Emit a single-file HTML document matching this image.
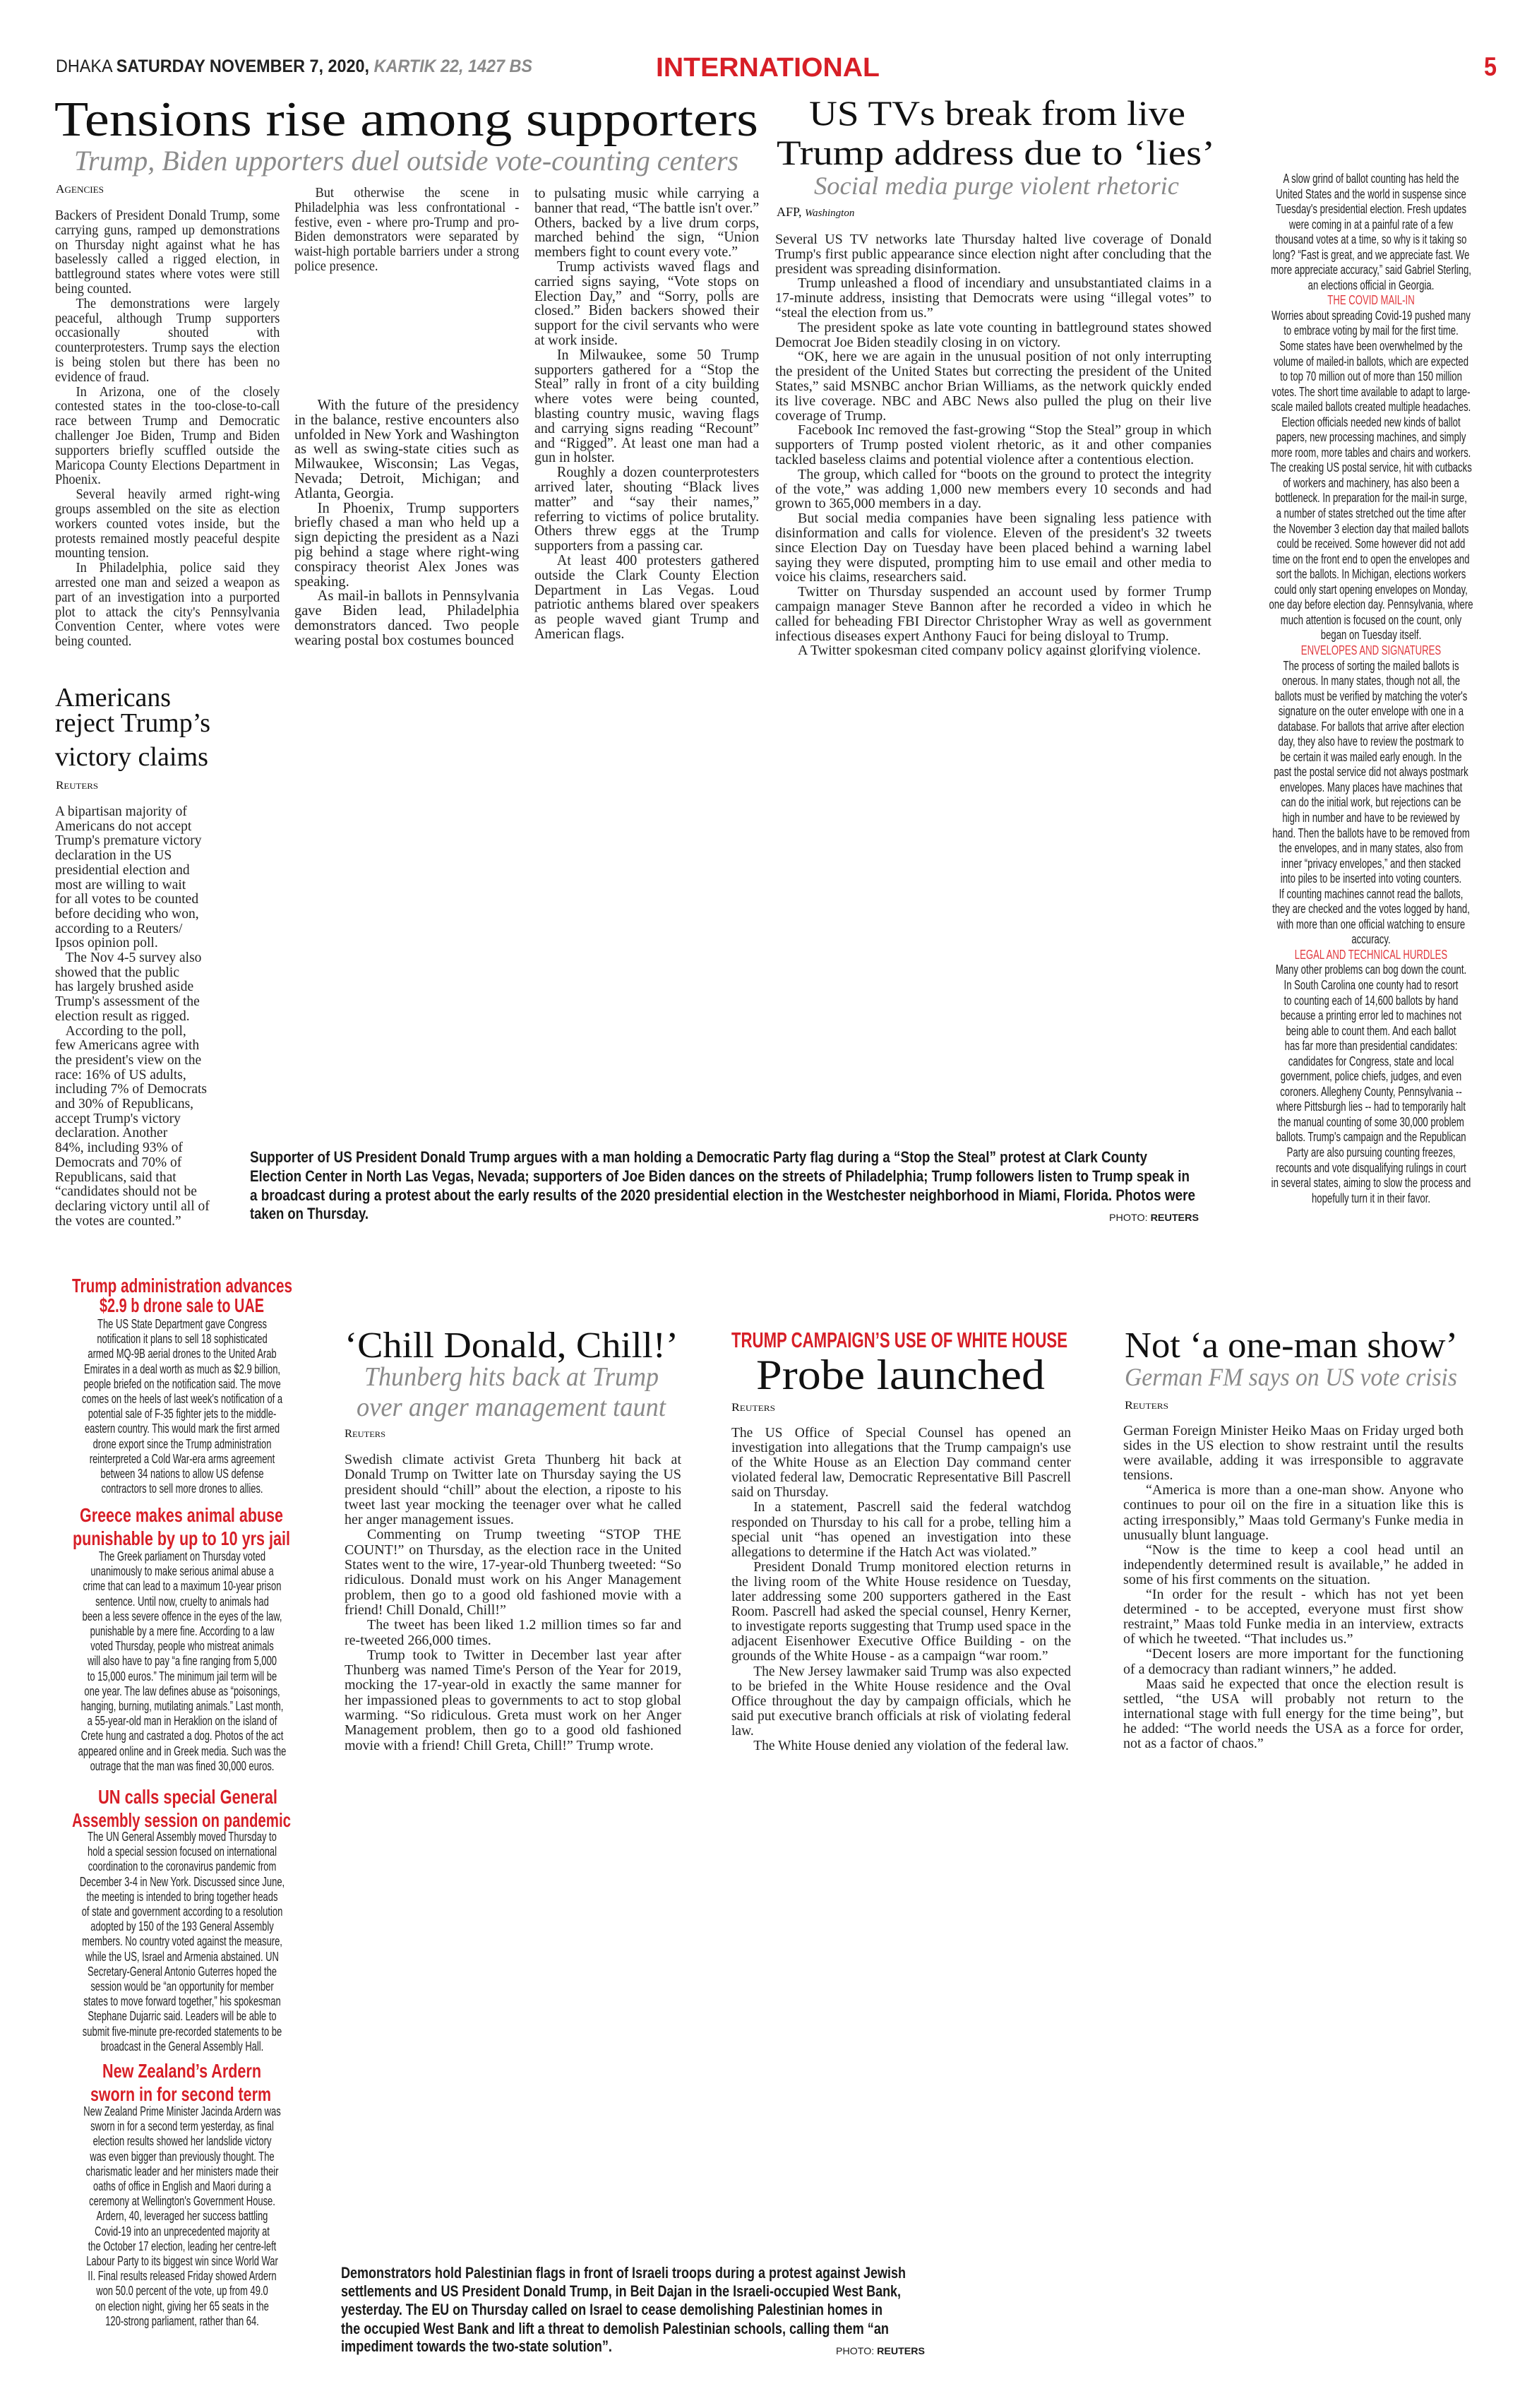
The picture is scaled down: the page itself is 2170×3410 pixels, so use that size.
<!DOCTYPE html>
<html lang="en"><head><meta charset="utf-8">
<style>
html,body{margin:0;padding:0;background:#fff;}
body{width:2170px;height:3410px;position:relative;overflow:hidden;}
.b{position:absolute;font-family:"Liberation Serif",serif;color:#222;text-align:justify;overflow:hidden;line-height:20.8px;}
.b p{margin:0;text-indent:1.6em;}
.b p.f{text-indent:0;}
.sc{position:absolute;transform-origin:0 0;}
.cs{position:absolute;font-family:"Liberation Sans",sans-serif;color:#222;text-align:center;white-space:nowrap;transform-origin:50% 0;}
.cs .r{color:#e0393e;}
svg{position:absolute;left:0;top:0;}
</style></head><body>

<svg width="2170" height="3410" xmlns="http://www.w3.org/2000/svg">
<g font-family="Liberation Sans, sans-serif">
<text x="79" y="102" font-size="25" textLength="675" lengthAdjust="spacingAndGlyphs" fill="#222">DHAKA <tspan font-weight="bold">SATURDAY NOVEMBER 7, 2020,</tspan> <tspan font-weight="bold" font-style="italic" fill="#8a8a8a">KARTIK 22, 1427 BS</tspan></text>
<text x="929" y="108" font-size="38" font-weight="bold" fill="#d71f27" textLength="317" lengthAdjust="spacingAndGlyphs">INTERNATIONAL</text>
<text x="2102" y="107" font-size="37" font-weight="bold" fill="#d71f27" textLength="18" lengthAdjust="spacingAndGlyphs">5</text>
</g>
<g font-family="Liberation Serif, serif" fill="#111">
<text x="77" y="192" font-size="70" textLength="997" lengthAdjust="spacingAndGlyphs">Tensions rise among supporters</text>
<text x="105" y="241" font-size="40" font-style="italic" fill="#8a8a8a" textLength="941" lengthAdjust="spacingAndGlyphs">Trump, Biden upporters duel outside vote-counting centers</text>
<text x="79" y="273" font-size="17" textLength="68" lengthAdjust="spacingAndGlyphs">A<tspan font-size="13">GENCIES</tspan></text>

<text x="1146" y="177" font-size="50" textLength="533" lengthAdjust="spacingAndGlyphs">US TVs break from live</text>
<text x="1100" y="233" font-size="50" textLength="621" lengthAdjust="spacingAndGlyphs">Trump address due to ‘lies’</text>
<text x="1153" y="275" font-size="36" font-style="italic" fill="#8a8a8a" textLength="517" lengthAdjust="spacingAndGlyphs">Social media purge violent rhetoric</text>
<text x="1100" y="306" font-size="18">AFP, <tspan font-style="italic" font-size="15">Washington</tspan></text>

<text x="78" y="1000" font-size="38" textLength="164" lengthAdjust="spacingAndGlyphs">Americans</text>
<text x="78" y="1036" font-size="38" textLength="220" lengthAdjust="spacingAndGlyphs">reject Trump’s</text>
<text x="78" y="1084" font-size="38" textLength="217" lengthAdjust="spacingAndGlyphs">victory claims</text>
<text x="79" y="1117" font-size="16" textLength="60" lengthAdjust="spacingAndGlyphs">R<tspan font-size="12">EUTERS</tspan></text>

<text x="488" y="1922" font-size="52" textLength="473" lengthAdjust="spacingAndGlyphs">‘Chill Donald, Chill!’</text>
<text x="516" y="1962" font-size="38" font-style="italic" fill="#8a8a8a" textLength="417" lengthAdjust="spacingAndGlyphs">Thunberg hits back at Trump</text>
<text x="505" y="2005" font-size="38" font-style="italic" fill="#8a8a8a" textLength="438" lengthAdjust="spacingAndGlyphs">over anger management taunt</text>
<text x="488" y="2035" font-size="16" textLength="58" lengthAdjust="spacingAndGlyphs">R<tspan font-size="12">EUTERS</tspan></text>

<text x="1036" y="1908" font-size="31" font-weight="bold" font-family="Liberation Sans, sans-serif" fill="#d71f27" textLength="476" lengthAdjust="spacingAndGlyphs">TRUMP CAMPAIGN’S USE OF WHITE HOUSE</text>
<text x="1071" y="1967" font-size="60" textLength="409" lengthAdjust="spacingAndGlyphs">Probe launched</text>
<text x="1036" y="1998" font-size="16" textLength="62" lengthAdjust="spacingAndGlyphs">R<tspan font-size="12">EUTERS</tspan></text>

<text x="1593" y="1922" font-size="52" textLength="472" lengthAdjust="spacingAndGlyphs">Not ‘a one-man show’</text>
<text x="1593" y="1962" font-size="36" font-style="italic" fill="#8a8a8a" textLength="471" lengthAdjust="spacingAndGlyphs">German FM says on US vote crisis</text>
<text x="1593" y="1995" font-size="16" textLength="62" lengthAdjust="spacingAndGlyphs">R<tspan font-size="12">EUTERS</tspan></text>
</g>
<g font-family="Liberation Sans, sans-serif" font-weight="bold" fill="#d71f27" font-size="28">
<text x="102" y="1830" textLength="312" lengthAdjust="spacingAndGlyphs">Trump administration advances</text>
<text x="141" y="1858" textLength="233" lengthAdjust="spacingAndGlyphs">$2.9 b drone sale to UAE</text>
<text x="113" y="2155" textLength="288" lengthAdjust="spacingAndGlyphs">Greece makes animal abuse</text>
<text x="103" y="2188" textLength="308" lengthAdjust="spacingAndGlyphs">punishable by up to 10 yrs jail</text>
<text x="139" y="2554" textLength="254" lengthAdjust="spacingAndGlyphs">UN calls special General</text>
<text x="102" y="2587" textLength="310" lengthAdjust="spacingAndGlyphs">Assembly session on pandemic</text>
<text x="145" y="2942" textLength="225" lengthAdjust="spacingAndGlyphs">New Zealand’s Ardern</text>
<text x="128" y="2975" textLength="256" lengthAdjust="spacingAndGlyphs">sworn in for second term</text>
</g>
<g font-family="Liberation Sans, sans-serif" font-weight="bold" fill="#1a1a1a" font-size="22">
<text x="354" y="1646" textLength="1271" lengthAdjust="spacingAndGlyphs">Supporter of US President Donald Trump argues with a man holding a Democratic Party flag during a “Stop the Steal” protest at Clark County</text>
<text x="354" y="1673" textLength="1331" lengthAdjust="spacingAndGlyphs">Election Center in North Las Vegas, Nevada; supporters of Joe Biden dances on the streets of Philadelphia; Trump followers listen to Trump speak in</text>
<text x="354" y="1700" textLength="1339" lengthAdjust="spacingAndGlyphs">a broadcast during a protest about the early results of the 2020 presidential election in the Westchester neighborhood in Miami, Florida. Photos were</text>
<text x="354" y="1726" textLength="168" lengthAdjust="spacingAndGlyphs">taken on Thursday.</text>
<text x="1571" y="1729" font-size="14" font-weight="normal" textLength="127" lengthAdjust="spacingAndGlyphs">PHOTO: <tspan font-weight="bold">REUTERS</tspan></text>

<text x="483" y="3226" textLength="800" lengthAdjust="spacingAndGlyphs">Demonstrators hold Palestinian flags in front of Israeli troops during a protest against Jewish</text>
<text x="483" y="3252" textLength="793" lengthAdjust="spacingAndGlyphs">settlements and US President Donald Trump, in Beit Dajan in the Israeli-occupied West Bank,</text>
<text x="483" y="3278" textLength="767" lengthAdjust="spacingAndGlyphs">yesterday. The EU on Thursday called on Israel to cease demolishing Palestinian homes in</text>
<text x="483" y="3305" textLength="776" lengthAdjust="spacingAndGlyphs">the occupied West Bank and  lift a threat to demolish Palestinian schools, calling them “an</text>
<text x="483" y="3330" textLength="384" lengthAdjust="spacingAndGlyphs">impediment towards the two-state solution”.</text>
<text x="1184" y="3334" font-size="14" font-weight="normal" textLength="126" lengthAdjust="spacingAndGlyphs">PHOTO: <tspan font-weight="bold">REUTERS</tspan></text>
</g>
</svg>

<!-- main story columns -->
<div class="b sc" style="left:78px;top:295px;width:346px;height:630px;font-size:20px;transform:scaleX(0.92);">
<p class="f">Backers of President Donald Trump, some carrying guns, ramped up demonstrations on Thursday night against what he has baselessly called a rigged election, in battleground states where votes were still being counted.</p>
<p>The demonstrations were largely peaceful, although Trump supporters occasionally shouted with counterprotesters. Trump says the election is being stolen but there has been no evidence of fraud.</p>
<p>In Arizona, one of the closely contested states in the too-close-to-call race between Trump and Democratic challenger Joe Biden, Trump and Biden supporters briefly scuffled outside the Maricopa County Elections Department in Phoenix.</p>
<p>Several heavily armed right-wing groups assembled on the site as election workers counted votes inside, but the protests remained mostly peaceful despite mounting tension.</p>
<p>In Philadelphia, police said they arrested one man and seized a weapon as part of an investigation into a purported plot to attack the city's Pennsylvania Convention Center, where votes were being counted.</p>
</div>
<div class="b sc" style="left:417px;top:263px;width:346px;height:126px;font-size:20px;transform:scaleX(0.92);">
<p>But otherwise the scene in Philadelphia was less confrontational - festive, even - where pro-Trump and pro-Biden demonstrators were separated by waist-high portable barriers under a strong police presence.</p>
</div>
<div class="b sc" style="left:417px;top:563px;width:335px;height:358px;font-size:21.5px;transform:scaleX(0.95);">
<p>With the future of the presidency in the balance, restive encounters also unfolded in New York and Washington as well as swing-state cities such as Milwaukee, Wisconsin; Las Vegas, Nevada; Detroit, Michigan; and Atlanta, Georgia.</p>
<p>In Phoenix, Trump supporters briefly chased a man who held up a sign depicting the president as a Nazi pig behind a stage where right-wing conspiracy theorist Alex Jones was speaking.</p>
<p>As mail-in ballots in Pennsylvania gave Biden lead, Philadelphia demonstrators danced. Two people wearing postal box costumes bounced</p>
</div>
<div class="b sc" style="left:757px;top:263px;width:335px;height:664px;font-size:21px;transform:scaleX(0.95);">
<p class="f">to pulsating music while carrying a banner that read, “The battle isn't over.” Others, backed by a live drum corps, marched behind the sign, “Union members fight to count every vote.”</p>
<p>Trump activists waved flags and carried signs saying, “Vote stops on Election Day,” and “Sorry, polls are closed.” Biden backers showed their support for the civil servants who were at work inside.</p>
<p>In Milwaukee, some 50 Trump supporters gathered for a “Stop the Steal” rally in front of a city building where votes were being counted, blasting country music, waving flags and carrying signs reading “Recount” and “Rigged”. At least one man had a gun in holster.</p>
<p>Roughly a dozen counterprotesters arrived later, shouting “Black lives matter” and “say their names,” referring to victims of police brutality. Others threw eggs at the Trump supporters from a passing car.</p>
<p>At least 400 protesters gathered outside the Clark County Election Department in Las Vegas. Loud patriotic anthems blared over speakers as people waved giant Trump and American flags.</p>
</div>

<!-- US TVs -->
<div class="b" style="left:1098px;top:329px;width:618px;height:600px;font-size:20px;">
<p class="f">Several US TV networks late Thursday halted live coverage of Donald Trump's first public appearance since election night after concluding that the president was spreading disinformation.</p>
<p>Trump unleashed a flood of incendiary and unsubstantiated claims in a 17-minute address, insisting that Democrats were using “illegal votes” to “steal the election from us.”</p>
<p>The president spoke as late vote counting in battleground states showed Democrat Joe Biden steadily closing in on victory.</p>
<p>“OK, here we are again in the unusual position of not only interrupting the president of the United States but correcting the president of the United States,” said MSNBC anchor Brian Williams, as the network quickly ended its live coverage. NBC and ABC News also pulled the plug on their live coverage of Trump.</p>
<p>Facebook Inc removed the fast-growing “Stop the Steal” group in which supporters of Trump posted violent rhetoric, as it and other companies tackled baseless claims and potential violence after a contentious election.</p>
<p>The group, which called for “boots on the ground to protect the integrity of the vote,” was adding 1,000 new members every 10 seconds and had grown to 365,000 members in a day.</p>
<p>But social media companies have been signaling less patience with disinformation and calls for violence. Eleven of the president's 32 tweets since Election Day on Tuesday have been placed behind a warning label saying they were disputed, prompting him to use email and other media to voice his claims, researchers said.</p>
<p>Twitter on Thursday suspended an account used by former Trump campaign manager Steve Bannon after he recorded a video in which he called for beheading FBI Director Christopher Wray as well as government infectious diseases expert Anthony Fauci for being disloyal to Trump.</p>
<p>A Twitter spokesman cited company policy against glorifying violence.</p>
</div>

<!-- Americans -->
<div class="b" style="left:78px;top:1140px;width:260px;height:600px;font-size:19.5px;text-align:left;line-height:20.7px;white-space:nowrap;">
A bipartisan majority of<br>Americans do not accept<br>Trump's premature victory<br>declaration in the US<br>presidential election and<br>most are willing to wait<br>for all votes to be counted<br>before deciding who won,<br>according to a Reuters/<br>Ipsos opinion poll.<br>&nbsp;&nbsp;&nbsp;The Nov 4-5 survey also<br>showed that the public<br>has largely brushed aside<br>Trump's assessment of the<br>election result as rigged.<br>&nbsp;&nbsp;&nbsp;According to the poll,<br>few Americans agree with<br>the president's view on the<br>race: 16% of US adults,<br>including 7% of Democrats<br>and 30% of Republicans,<br>accept Trump's victory<br>declaration. Another<br>84%, including 93% of<br>Democrats and 70% of<br>Republicans, said that<br>“candidates should not be<br>declaring victory until all of<br>the votes are counted.”
</div>

<!-- Sidebar -->
<div class="cs" style="left:1722px;top:243px;width:440px;font-size:18px;line-height:21.55px;transform:scaleX(0.73);">
A slow grind of ballot counting has held the<br>United States and the world in suspense since<br>Tuesday's presidential election. Fresh updates<br>were coming in at a painful rate of a few<br>thousand votes at a time, so why is it taking so<br>long? “Fast is great, and we appreciate fast. We<br>more appreciate accuracy,” said Gabriel Sterling,<br>an elections official in Georgia.<br>
<span class="r">THE COVID MAIL-IN</span><br>
Worries about spreading Covid-19 pushed many<br>to embrace voting by mail for the first time.<br>Some states have been overwhelmed by the<br>volume of mailed-in ballots, which are expected<br>to top 70 million out of more than 150 million<br>votes. The short time available to adapt to large-<br>scale mailed ballots created multiple headaches.<br>Election officials needed new kinds of ballot<br>papers, new processing machines, and simply<br>more room, more tables and chairs and workers.<br>The creaking US postal service, hit with cutbacks<br>of workers and machinery, has also been a<br>bottleneck. In preparation for the mail-in surge,<br>a number of states stretched out the time after<br>the November 3 election day that mailed ballots<br>could be received.  Some however did not add<br>time on the front end to open the envelopes and<br>sort the ballots.  In Michigan, elections workers<br>could only start opening envelopes on Monday,<br>one day before election day. Pennsylvania, where<br>much attention is focused on the count, only<br>began on Tuesday itself.<br>
<span class="r">ENVELOPES AND SIGNATURES</span><br>
The process of sorting the mailed ballots is<br>onerous. In many states, though not all, the<br>ballots must be verified by matching the voter's<br>signature on the outer envelope with one in a<br>database. For ballots that arrive after election<br>day, they also have to review the postmark to<br>be certain it was mailed early enough. In the<br>past the postal service did not always postmark<br>envelopes. Many places have machines that<br>can do the initial work, but rejections can be<br>high in number and have to be reviewed by<br>hand. Then the ballots have to be removed from<br>the envelopes, and in many states, also from<br>inner “privacy envelopes,” and then stacked<br>into piles to be inserted into voting counters.<br>If counting machines cannot read the ballots,<br>they are checked and the votes logged by hand,<br>with more than one official watching to ensure<br>accuracy.<br>
<span class="r">LEGAL AND TECHNICAL HURDLES</span><br>
Many other problems can bog down the count.<br>In South Carolina one county had to resort<br>to counting each of 14,600 ballots by hand<br>because a printing error led to machines not<br>being able to count them. And each ballot<br>has far more than presidential candidates:<br>candidates for Congress, state and local<br>government, police chiefs, judges, and even<br>coroners. Allegheny County, Pennsylvania --<br>where Pittsburgh lies -- had to temporarily halt<br>the manual counting of some 30,000 problem<br>ballots. Trump's campaign and the Republican<br>Party are also pursuing counting freezes,<br>recounts and vote disqualifying rulings in court<br>in several states, aiming to slow the process and<br>hopefully turn it in their favor.
</div>

<!-- Briefs -->
<div class="cs" style="left:48px;top:1865px;width:420px;font-size:18px;line-height:21.2px;transform:scaleX(0.72);">
The US State Department gave Congress<br>notification it plans to sell 18 sophisticated<br>armed MQ-9B aerial drones to the United Arab<br>Emirates in a deal worth as much as $2.9 billion,<br>people briefed on the notification said. The move<br>comes on the heels of last week's notification of a<br>potential sale of F-35 fighter jets to the middle-<br>eastern country. This would mark the first armed<br>drone export since the Trump administration<br>reinterpreted a Cold War-era arms agreement<br>between 34 nations to allow US defense<br>contractors to sell more drones to allies.
</div>
<div class="cs" style="left:48px;top:2194px;width:420px;font-size:18px;line-height:21.2px;transform:scaleX(0.72);">
The Greek parliament on Thursday voted<br>unanimously to make serious animal abuse a<br>crime that can lead to a maximum 10-year prison<br>sentence. Until now, cruelty to animals had<br>been a less severe offence in the eyes of the law,<br>punishable by a mere fine. According to a law<br>voted Thursday, people who mistreat animals<br>will also have to pay “a fine ranging from 5,000<br>to 15,000 euros.” The minimum jail term will be<br>one year. The law defines abuse as “poisonings,<br>hanging, burning, mutilating animals.” Last month,<br>a 55-year-old man in Heraklion on the island of<br>Crete hung and castrated a dog. Photos of the act<br>appeared online and in Greek media. Such was the<br>outrage that the man was fined 30,000 euros.
</div>
<div class="cs" style="left:48px;top:2591px;width:420px;font-size:18px;line-height:21.2px;transform:scaleX(0.72);">
The UN General Assembly moved Thursday to<br>hold a special session focused on international<br>coordination to the coronavirus pandemic from<br>December 3-4 in New York. Discussed since June,<br>the meeting is intended to bring together heads<br>of state and government according to a resolution<br>adopted by 150 of the 193 General Assembly<br>members.  No country voted against the measure,<br>while the US, Israel and Armenia abstained.  UN<br>Secretary-General Antonio Guterres hoped the<br>session would be “an opportunity for member<br>states to move forward together,” his spokesman<br>Stephane Dujarric said. Leaders will be able to<br>submit five-minute pre-recorded statements to be<br>broadcast in the General Assembly Hall.
</div>
<div class="cs" style="left:48px;top:2980px;width:420px;font-size:18px;line-height:21.2px;transform:scaleX(0.72);">
New Zealand Prime Minister Jacinda Ardern was<br>sworn in for a second term yesterday, as final<br>election results showed her landslide victory<br>was even bigger than previously thought. The<br>charismatic leader and her ministers made their<br>oaths of office in English and Maori during a<br>ceremony at Wellington's Government House.<br>Ardern, 40, leveraged her success battling<br>Covid-19 into an unprecedented majority at<br>the October 17 election, leading her centre-left<br>Labour Party to its biggest win since World War<br>II. Final results released Friday showed Ardern<br>won 50.0 percent of the vote, up from 49.0<br>on election night, giving her 65 seats in the<br>120-strong parliament, rather than 64.
</div>

<!-- Chill -->
<div class="b" style="left:488px;top:2057px;width:477px;height:430px;font-size:20px;line-height:21.3px;">
<p class="f">Swedish climate activist Greta Thunberg hit back at Donald Trump on Twitter late on Thursday saying the US president should “chill” about the election, a riposte to his tweet last year mocking the teenager over what he called her anger management issues.</p>
<p>Commenting on Trump tweeting “STOP THE COUNT!” on Thursday, as the election race in the United States went to the wire, 17-year-old Thunberg tweeted: “So ridiculous. Donald must work on his Anger Management problem, then go to a good old fashioned movie with a friend! Chill Donald, Chill!”</p>
<p>The tweet has been liked 1.2 million times so far and re-tweeted 266,000 times.</p>
<p>Trump took to Twitter in December last year after Thunberg was named Time's Person of the Year for 2019, mocking the 17-year-old in exactly the same manner for her impassioned pleas to governments to act to stop global warming. “So ridiculous. Greta must work on her Anger Management problem, then go to a good old fashioned movie with a friend! Chill Greta, Chill!” Trump wrote.</p>
</div>

<!-- Probe -->
<div class="b" style="left:1036px;top:2019px;width:481px;height:485px;font-size:19.5px;line-height:21.1px;">
<p class="f">The US Office of Special Counsel has opened an investigation into allegations that the Trump campaign's use of the White House as an Election Day command center violated federal law, Democratic Representative Bill Pascrell said on Thursday.</p>
<p>In a statement, Pascrell said the federal watchdog responded on Thursday to his call for a probe, telling him a special unit “has opened an investigation into these allegations to determine if the Hatch Act was violated.”</p>
<p>President Donald Trump monitored election returns in the living room of the White House residence on Tuesday, later addressing some 200 supporters gathered in the East Room. Pascrell had asked the special counsel, Henry Kerner, to investigate reports suggesting that Trump used space in the adjacent Eisenhower Executive Office Building - on the grounds of the White House - as a campaign “war room.”</p>
<p>The New Jersey lawmaker said Trump was also expected to be briefed in the White House residence and the Oval Office throughout the day by campaign officials, which he said put executive branch officials at risk of violating federal law.</p>
<p>The White House denied any violation of the federal law.</p>
</div>

<!-- Not one-man show -->
<div class="b" style="left:1591px;top:2016px;width:482px;height:462px;font-size:20px;line-height:21.1px;">
<p class="f">German Foreign Minister Heiko Maas on Friday urged both sides in the US election to show restraint until the results were available, adding it was irresponsible to aggravate tensions.</p>
<p>“America is more than a one-man show. Anyone who continues to pour oil on the fire in a situation like this is acting irresponsibly,” Maas told Germany's Funke media in unusually blunt language.</p>
<p>“Now is the time to keep a cool head until an independently determined result is available,” he added in some of his first comments on the situation.</p>
<p>“In order for the result - which has not yet been determined - to be accepted, everyone must first show restraint,” Maas told Funke media in an interview, extracts of which he tweeted. “That includes us.”</p>
<p>“Decent losers are more important for the functioning of a democracy than radiant winners,” he added.</p>
<p>Maas said he expected that once the election result is settled, “the USA will probably not return to the international stage with full energy for the time being”, but he added: “The world needs the USA as a force for order, not as a factor of chaos.”</p>
</div>

</body></html>
